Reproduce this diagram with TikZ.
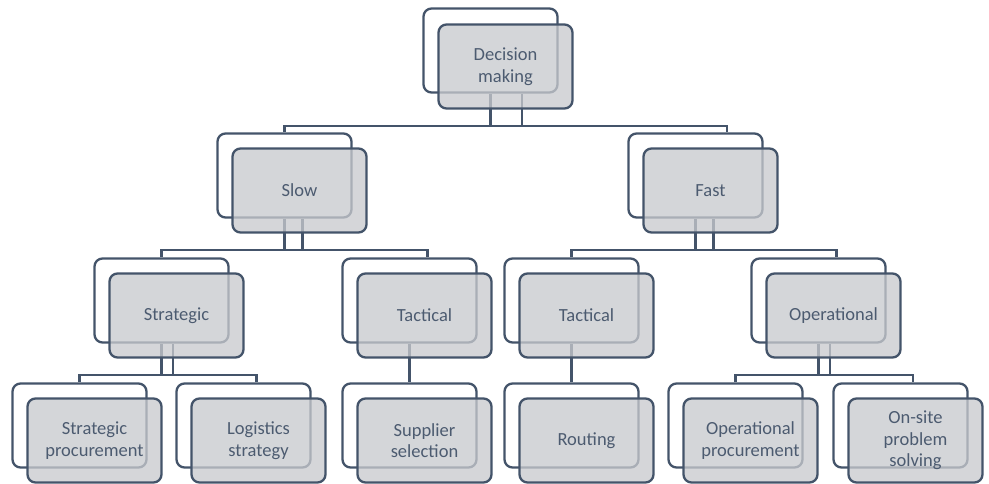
\documentclass[tikz,border=0pt]{standalone}
\usepackage{fontspec}
\setmainfont{Carlito}
\usetikzlibrary{calc}
\definecolor{slate}{HTML}{44546A}
\definecolor{txt}{HTML}{4C5B70}
\definecolor{frontgray}{RGB}{200,202,206}
\tikzset{
  boxbase/.style={rectangle, rounded corners=8pt, minimum width=134pt, minimum height=84pt, inner sep=0pt, line width=2.3pt, draw=slate},
  backbox/.style={boxbase, fill=white},
  frontbox/.style={boxbase, fill=frontgray, fill opacity=0.77, text opacity=1, text=txt, align=center,
    font=\fontsize{18.5}{21.5}\selectfont},
  conn/.style={draw=slate, line width=2.3pt},
}
\begin{document}
\begin{tikzpicture}[x=1pt,y=-1pt]
\useasboundingbox (0,0) rectangle (989,483);
% back boxes
\node[backbox] (dmb) at (490.5,50.5) {};
\node[backbox] (slowb) at (284.5,175.5) {};
\node[backbox] (fastb) at (695.5,175.5) {};
\node[backbox] (strb) at (161.5,300.5) {};
\node[backbox] (tacsb) at (409.5,300.5) {};
\node[backbox] (tacfb) at (571.5,300.5) {};
\node[backbox] (operb) at (818.5,300.5) {};
\node[backbox] (spb) at (79.5,425.5) {};
\node[backbox] (lsb) at (243.5,425.5) {};
\node[backbox] (ssb) at (409.5,425.5) {};
\node[backbox] (rtb) at (571.5,425.5) {};
\node[backbox] (opb) at (735.5,425.5) {};
\node[backbox] (osb) at (900.5,425.5) {};
% connectors
\path (dmb.south) ++(0,32) coordinate (bus1);
\draw[conn] (dmb.south) -- (bus1);
\draw[conn] ([xshift=31.5pt]dmb.south) -- ([xshift=31.5pt]bus1);
\draw[conn] (slowb.north) |- (bus1) -| ([xshift=31.5pt]fastb.north);
\path (slowb.south) ++(0,31) coordinate (bus2);
\draw[conn] (slowb.south) -- (bus2);
\draw[conn] ([xshift=18pt]slowb.south) -- ([xshift=18pt]bus2);
\draw[conn] (strb.north) |- (bus2) -| ([xshift=18pt]tacsb.north);
\path (fastb.south) ++(0,31) coordinate (bus3);
\draw[conn] (fastb.south) -- (bus3);
\draw[conn] ([xshift=18pt]fastb.south) -- ([xshift=18pt]bus3);
\draw[conn] (tacfb.north) |- (bus3) -| ([xshift=18pt]operb.north);
\path (strb.south) ++(0,31) coordinate (bus4);
\draw[conn] (strb.south) -- (bus4);
\draw[conn] ([xshift=11.5pt]strb.south) -- ([xshift=11.5pt]bus4);
\draw[conn] (spb.north) |- (bus4) -| ([xshift=13pt]lsb.north);
\path (operb.south) ++(0,31) coordinate (bus5);
\draw[conn] (operb.south) -- (bus5);
\draw[conn] ([xshift=11.5pt]operb.south) -- ([xshift=11.5pt]bus5);
\draw[conn] (opb.north) |- (bus5) -| ([xshift=12.5pt]osb.north);
\draw[conn] (tacsb.south) -- (ssb.north);
\draw[conn] (tacfb.south) -- (rtb.north);
% front boxes
\node[frontbox] (dm) at ($(dmb)+(15,16)$) {Decision\\making};
\node[frontbox] (slow) at ($(slowb)+(15,15)$) {Slow};
\node[frontbox] (fast) at ($(fastb)+(15,15)$) {Fast};
\node[frontbox] (str) at ($(strb)+(15,15)$) {Strategic};
\node[frontbox] (tacs) at ($(tacsb)+(15,15)$) {Tactical};
\node[frontbox] (tacf) at ($(tacfb)+(15,15)$) {Tactical};
\node[frontbox] (oper) at ($(operb)+(15,15)$) {Operational};
\node[frontbox] (sp) at ($(spb)+(15,15)$) {Strategic\\procurement};
\node[frontbox] (ls) at ($(lsb)+(15,15)$) {Logistics\\strategy};
\node[frontbox] (ss) at ($(ssb)+(15,15)$) {Supplier\\selection};
\node[frontbox] (rt) at ($(rtb)+(15,15)$) {Routing};
\node[frontbox] (op) at ($(opb)+(15,15)$) {Operational\\procurement};
\node[frontbox] (os) at ($(osb)+(15,15)$) {On-site\\problem\\solving};
\end{tikzpicture}
\end{document}
